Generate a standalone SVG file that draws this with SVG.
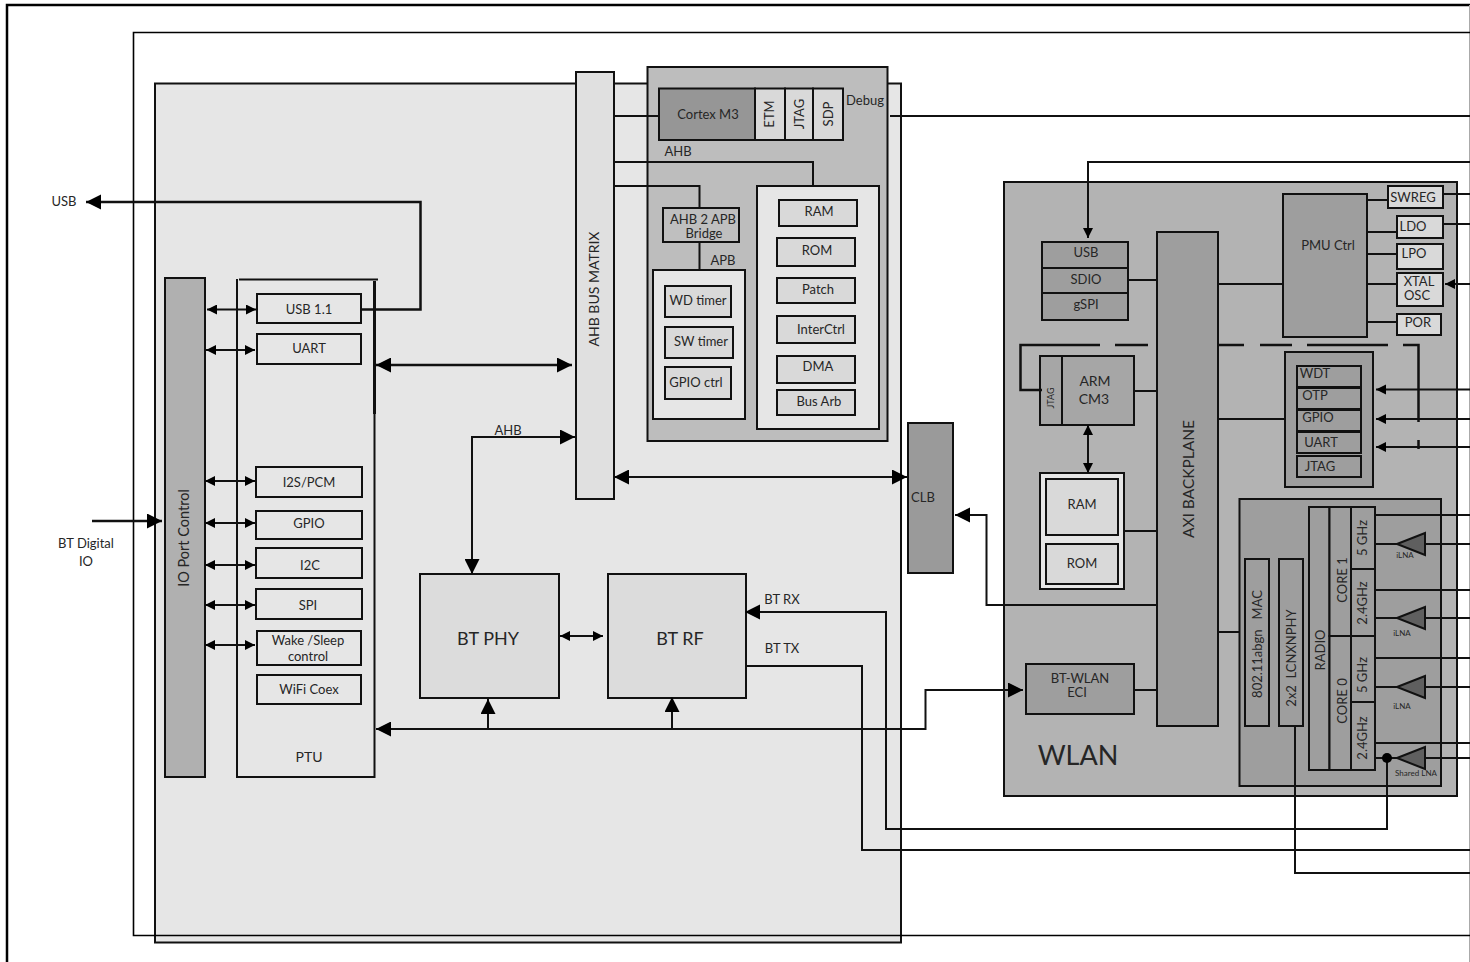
<svg xmlns="http://www.w3.org/2000/svg" width="1470" height="962" viewBox="0 0 1470 962">
<style>
text{font-family:"Lato","Liberation Sans",sans-serif;font-size:13px;fill:#262626;text-anchor:middle}
.l{stroke:#111;stroke-width:2;fill:none}
.t{stroke:#111;stroke-width:2.5;fill:none}
.k{stroke:#000;stroke-width:1.6;fill:none}
rect{stroke:#111;stroke-width:2}
.w{fill:#e6e6e6}.lg{fill:#d9d9d9}.m{fill:#9e9e9e}
.a1{marker-end:url(#ah)}.a2{marker-end:url(#ah);marker-start:url(#as)}
.b1{marker-end:url(#ahs)}.b2{marker-end:url(#ahs);marker-start:url(#ass)}
.lna{fill:#5f5f5f;stroke:#111;stroke-width:2}
</style>
<defs>
<marker id="ah" markerUnits="userSpaceOnUse" markerWidth="16" markerHeight="16" refX="15" refY="7.500" orient="auto"><path d="M0 0L15 7.500L0 15Z" fill="#000"/></marker>
<marker id="as" markerUnits="userSpaceOnUse" markerWidth="16" markerHeight="16" refX="0" refY="7.500" orient="auto"><path d="M15 0L0 7.500L15 15Z" fill="#000"/></marker>
<marker id="ahs" markerUnits="userSpaceOnUse" markerWidth="12" markerHeight="12" refX="10" refY="5" orient="auto"><path d="M0 0L10 5L0 10Z" fill="#000"/></marker>
<marker id="ass" markerUnits="userSpaceOnUse" markerWidth="12" markerHeight="12" refX="0" refY="5" orient="auto"><path d="M10 0L0 5L10 10Z" fill="#000"/></marker>
</defs>
<g id="frames">
<path d="M7 962V5H1470" class="t" style="stroke:#000"/>
<path d="M1469.500 5V962" stroke="#aaa" fill="none"/>
</g>
<g id="bt-area"><rect x="155" y="83.500" width="746" height="859" fill="#e6e6e6" stroke-width="2.500"/></g>
<g id="inner-frame"><path d="M1470 32.500H133.500V935.500H1470" class="k"/></g>
<g id="wlan-area"><rect x="1004" y="182" width="453" height="614" fill="#b3b3b3"/><text x="1078" y="765" style="font-size:27px">WLAN</text></g>
<g id="cpu-area"><rect x="647.500" y="67" width="240" height="374" fill="#bdbdbd"/></g>
<g id="usb-label"><text x="64" y="206">USB</text></g>
<g id="ahb-label"><text x="508" y="435">AHB</text></g>
<g id="btio-label"><text x="86" y="548">BT Digital</text><text x="86" y="566">IO</text></g>
<g id="rx-label"><text x="782" y="604">BT RX</text><text x="782" y="653">BT TX</text></g>
<g id="io-port"><rect x="165" y="278" width="40" height="499" fill="#b0b0b0"/><text transform="translate(189 538) rotate(-90)" style="font-size:14.500px">IO Port Control</text></g>
<g id="ptu"><path class="l" d="M237 279V777H374.500V414M239 279.500H378"/><path d="M374.500 281V414" stroke="#111" stroke-width="3"/><text x="309" y="762" style="font-size:14px">PTU</text></g>
<g id="usb11"><rect class="w" x="257" y="294" width="104" height="29"/><text x="309" y="314">USB 1.1</text></g>
<g id="uart"><rect class="w" x="257" y="334" width="104" height="30"/><text x="309" y="353">UART</text></g>
<g id="i2s"><rect class="w" x="256" y="467" width="106" height="30"/><text x="309" y="487">I2S/PCM</text></g>
<g id="gpio"><rect class="w" x="256" y="511" width="106" height="28"/><text x="309" y="528">GPIO</text></g>
<g id="i2c"><rect class="w" x="256" y="548" width="106" height="30"/><text x="310" y="570">I2C</text></g>
<g id="spi"><rect class="w" x="256" y="589" width="106" height="30"/><text x="308" y="610">SPI</text></g>
<g id="wake"><rect class="w" x="257" y="631" width="104" height="34"/><text x="308" y="645">Wake /Sleep</text><text x="308" y="661">control</text></g>
<g id="coex"><rect class="w" x="257" y="675" width="104" height="29"/><text x="309" y="694">WiFi Coex</text></g>
<g id="ahb-matrix"><rect x="576" y="72" width="38" height="427" fill="#e0e0e0"/><text transform="translate(599 289) rotate(-90)" style="font-size:14px">AHB BUS MATRIX</text></g>
<g id="cortex"><rect x="659" y="88.500" width="96" height="51.500" fill="#969696"/><text x="708" y="119">Cortex M3</text></g>
<g id="etm"><rect class="lg" x="755" y="88.500" width="30" height="51.500"/><text transform="translate(774 114) rotate(-90)">ETM</text></g>
<g id="jtag-top"><rect class="lg" x="785" y="88.500" width="28" height="51.500"/><text transform="translate(804 114) rotate(-90)">JTAG</text></g>
<g id="sdp"><rect class="lg" x="813" y="88.500" width="30" height="51.500"/><text transform="translate(833 114) rotate(-90)">SDP</text></g>
<g id="debug-label"><text x="865" y="105">Debug</text></g>
<g id="ahb2-label"><text x="678" y="156">AHB</text></g>
<g id="bridge"><rect x="663" y="208" width="76" height="34" fill="#bfbfbf"/><text x="703" y="224">AHB 2 APB</text><text x="704" y="238">Bridge</text></g>
<g id="apb-label"><text x="723" y="265">APB</text></g>
<g id="apb-box"><rect class="w" x="653" y="270" width="92" height="149"/></g>
<g id="wd"><rect class="lg" x="665" y="286" width="66" height="31"/><text x="698" y="305">WD timer</text></g>
<g id="sw"><rect class="lg" x="665" y="327" width="68" height="31"/><text x="701" y="346">SW timer</text></g>
<g id="gpioctrl"><rect class="lg" x="665" y="367" width="66" height="32"/><text x="696" y="387">GPIO ctrl</text></g>
<g id="mem-box"><rect class="w" x="757" y="186" width="122" height="243"/></g>
<g id="ram"><rect class="lg" x="779" y="200" width="78" height="26"/><text x="819" y="216">RAM</text></g>
<g id="rom"><rect class="lg" x="777" y="238" width="78" height="28"/><text x="817" y="255">ROM</text></g>
<g id="patch"><rect class="lg" x="777" y="278" width="78" height="25"/><text x="818" y="294">Patch</text></g>
<g id="interctrl"><rect class="lg" x="777" y="316" width="78" height="27"/><text x="821" y="334">InterCtrl</text></g>
<g id="dma"><rect class="lg" x="777" y="356" width="78" height="27"/><text x="818" y="371">DMA</text></g>
<g id="busarb"><rect class="lg" x="777" y="390" width="78" height="25"/><text x="819" y="406">Bus Arb</text></g>
<g id="clb"><rect x="908" y="423" width="45" height="150" fill="#9a9a9a"/><text x="923" y="502">CLB</text></g>
<g id="btphy"><rect x="420" y="574" width="139" height="124" fill="#dcdcdc"/><text x="488" y="645" style="font-size:18px">BT PHY</text></g>
<g id="btrf"><rect x="608" y="574" width="138" height="124" fill="#dcdcdc"/><text x="680" y="645" style="font-size:18px">BT RF</text></g>
<g id="usb"><rect class="m" x="1042" y="242" width="86" height="26"/><text x="1086" y="257">USB</text></g>
<g id="sdio"><rect class="m" x="1042" y="268" width="86" height="25"/><text x="1086" y="284">SDIO</text></g>
<g id="gspi"><rect class="m" x="1042" y="293" width="86" height="27"/><text x="1086" y="309">gSPI</text></g>
<g id="axi"><rect class="m" x="1157" y="232" width="61" height="494"/><text transform="translate(1194 479) rotate(-90)" style="font-size:15.500px">AXI BACKPLANE</text></g>
<g id="pmu"><rect class="m" x="1283" y="194" width="84" height="143"/><text x="1328" y="250">PMU Ctrl</text></g>
<g id="swreg"><rect class="lg" x="1388" y="186" width="55" height="22"/><text x="1413" y="202">SWREG</text></g>
<g id="ldo"><rect class="lg" x="1397" y="216" width="46" height="22"/><text x="1413" y="231">LDO</text></g>
<g id="lpo"><rect class="lg" x="1397" y="244" width="46" height="25"/><text x="1414" y="258">LPO</text></g>
<g id="xtal"><rect class="lg" x="1397" y="273" width="46" height="33"/><text x="1419" y="286">XTAL</text><text x="1417" y="300">OSC</text></g>
<g id="por"><rect class="lg" x="1397" y="314" width="44" height="21"/><text x="1418" y="327">POR</text></g>
<g id="jtag-arm"><rect x="1040" y="356" width="22" height="69" fill="#a6a6a6"/><text transform="translate(1054 398) rotate(-90)" style="font-size:9px">JTAG</text></g>
<g id="arm"><rect x="1062" y="356" width="72" height="69" fill="#a6a6a6"/><text x="1095" y="386" style="font-size:14px">ARM</text><text x="1094" y="404" style="font-size:14px">CM3</text></g>
<g id="memw"><rect class="w" x="1040" y="473" width="84" height="116"/></g>
<g id="ram2"><rect class="lg" x="1046" y="479" width="72" height="56"/><text x="1082" y="509">RAM</text></g>
<g id="rom2"><rect class="lg" x="1046" y="544" width="72" height="40"/><text x="1082" y="568">ROM</text></g>
<g id="peri"><rect class="m" x="1285" y="352" width="88" height="135"/></g>
<g id="wdt"><rect class="m" x="1297" y="366" width="64" height="21"/><text x="1315" y="378">WDT</text></g>
<g id="otp"><rect class="m" x="1297" y="388" width="64" height="21"/><text x="1315" y="400">OTP</text></g>
<g id="gpio2"><rect class="m" x="1297" y="410" width="64" height="21"/><text x="1318" y="422">GPIO</text></g>
<g id="uart2"><rect class="m" x="1297" y="432" width="64" height="21"/><text x="1321" y="447">UART</text></g>
<g id="jtag2"><rect class="m" x="1297" y="456" width="64" height="21"/><text x="1320" y="471">JTAG</text></g>
<g id="radio-area"><rect class="m" x="1239.500" y="499" width="201.500" height="287"/></g>
<g id="mac"><rect class="m" x="1245" y="559" width="24" height="167"/><text transform="translate(1262 644) rotate(-90)" xml:space="preserve">802.11abgn   MAC</text></g>
<g id="lcn"><rect class="m" x="1279" y="559" width="24" height="167"/><text transform="translate(1296 658) rotate(-90)" xml:space="preserve">2x2  LCNXNPHY</text></g>
<g id="radio"><rect class="m" x="1309" y="507" width="20.500" height="263"/><text transform="translate(1325 650) rotate(-90)">RADIO</text></g>
<g id="core1"><rect class="m" x="1329.500" y="507" width="21.500" height="129"/><text transform="translate(1347 580) rotate(-90)">CORE 1</text></g>
<g id="core0"><rect class="m" x="1329.500" y="636" width="21.500" height="134"/><text transform="translate(1347 701) rotate(-90)">CORE 0</text></g>
<g id="b1"><rect class="m" x="1351" y="507" width="24" height="62"/><text transform="translate(1367 538) rotate(-90)">5 GHz</text></g>
<g id="b2"><rect class="m" x="1351" y="569" width="24" height="67"/><text transform="translate(1367 603) rotate(-90)">2.4GHz</text></g>
<g id="b3"><rect class="m" x="1351" y="636" width="24" height="66"/><text transform="translate(1367 675) rotate(-90)">5 GHz</text></g>
<g id="b4"><rect class="m" x="1351" y="702" width="24" height="68"/><text transform="translate(1367 738) rotate(-90)">2.4GHz</text></g>
<g id="eci"><rect class="m" x="1026" y="664" width="108" height="50"/><text x="1080" y="683">BT-WLAN</text><text x="1077" y="697">ECI</text></g>
<g id="connectors">
<path class="l" d="M614 116H659M614 162H813V186M614 186H699.500V208M699.500 242V270"/>
<path class="l" d="M890 116H1470"/>
<path class="t a1" d="M360 309.500H420.500V202H86"/>
<path class="t a1" d="M92 521H162"/>
<path class="l b2" d="M207 309.500H256"/>
<path class="l b2" d="M206 350H255"/>
<path class="l b2" d="M205 481H255"/>
<path class="l b2" d="M205 523H255"/>
<path class="l b2" d="M205 565H255"/>
<path class="l b2" d="M205 605H255"/>
<path class="l b2" d="M205 645H255"/>
<path class="t a2" d="M376 365H572"/>
<path class="l a2" d="M472 574V437H575"/>
<path class="l a2" d="M614 477H907"/>
<path class="l a1" d="M1157 605H986.500V515H955"/>
<path class="l b2" d="M560 636H603"/>
<path class="l a1" d="M1387 758V829H886V612H745"/>
<path class="l" d="M746 666H862V850H1470"/>
<path class="l" d="M1295 726V873H1470"/>
<path class="l a2" d="M376 729H925.500V690H1023"/>
<path class="l a1" d="M488 729V699"/>
<path class="l a1" d="M672 729V697"/>
<path class="l b1" d="M1470 162H1088V238"/>
<path class="l" d="M1128 280H1157M1218 284H1283M1134 391H1157M1124 531H1157M1218 419H1285M1218 632H1239M1134 690H1157"/>
<path class="l" d="M1367 200H1388M1367 232H1397M1367 254H1397M1367 284H1397M1367 322H1397M1443 194H1470M1443 224H1470"/>
<path class="l b1" d="M1470 284H1445"/>
<path class="l b1" d="M1470 389.500H1376"/>
<path class="l b1" d="M1470 419H1376"/>
<path class="l b1" d="M1470 447H1376"/>
<path class="t" d="M1100 345H1020.500V390H1042M1115 345H1148M1218 345H1244M1260 345H1292M1307 345H1388M1403 345H1418.500V422M1418.500 440V449"/>
<path class="l b2" d="M1088 425V473"/>
<path class="l" d="M1375 515H1470M1375 590H1470M1375 658H1470M1375 743H1470"/>
<path class="l" d="M1375 544H1397M1425 544H1470M1375 618H1397M1425 618H1470M1375 687H1397M1425 687H1470M1375 758H1397M1425 758H1470"/>
<circle cx="1387" cy="758" r="5" fill="#000"/>
</g>
<g id="lna1"><path class="lna" d="M1397 544L1425 533V555Z"/><text x="1405" y="558" style="font-size:8px">iLNA</text></g>
<g id="lna2"><path class="lna" d="M1397 618L1425 607V629Z"/><text x="1402" y="636" style="font-size:8px">iLNA</text></g>
<g id="lna3"><path class="lna" d="M1397 687L1425 676V698Z"/><text x="1402" y="709" style="font-size:8px">iLNA</text></g>
<g id="lna4"><path class="lna" d="M1397 758L1425 747V769Z"/><text x="1416" y="776" style="font-size:8px">Shared LNA</text></g>
</svg>
